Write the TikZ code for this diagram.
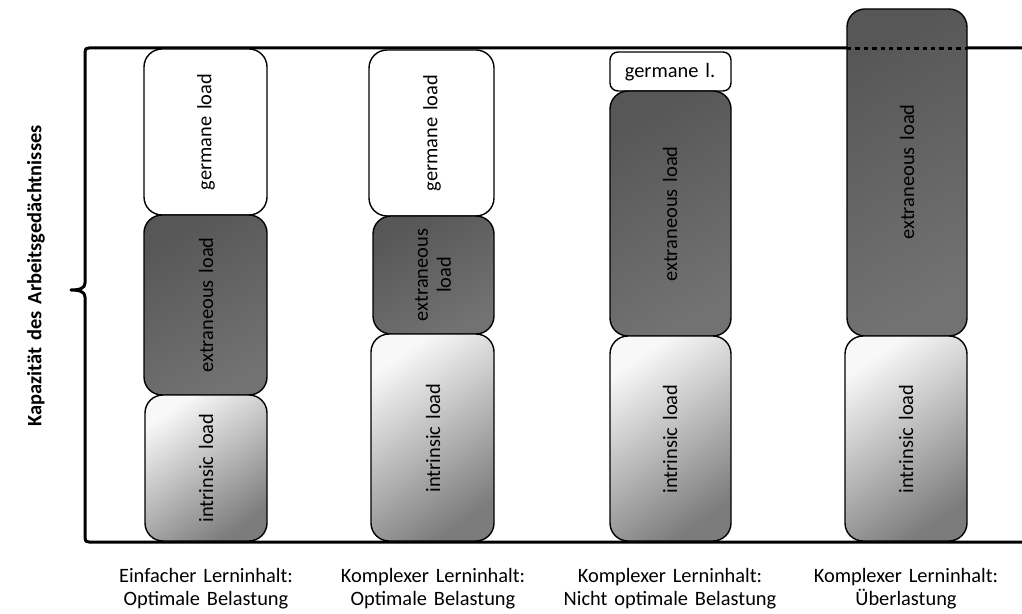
\documentclass[tikz,border=0pt]{standalone}
\usepackage{fontspec}
\setmainfont{Carlito}[WordSpace=1.5]

\definecolor{extratop}{HTML}{575757}
\definecolor{extrabot}{HTML}{727272}
\definecolor{intrtop}{HTML}{F8F8F8}
\definecolor{intrmid}{HTML}{D6D6D6}
\definecolor{intrbot}{HTML}{7C7C7C}

\tikzset{
  loadbox/.style={draw=black, line width=0.7pt, rounded corners=9pt},
  germane/.style={loadbox, fill=white},
  extraneous/.style={loadbox, top color=extratop, bottom color=extrabot, shading angle=30},
  intrinsic/.style={loadbox, top color=intrtop, middle color=intrmid, bottom color=intrbot, shading angle=35},
  loadlabel/.style={rotate=90, align=center, text=black, font=\fontsize{10.2}{11.5}\selectfont},
  caption/.style={align=center, font=\fontsize{10.2}{11.5}\selectfont},
  brace/.style={line width=1.5pt, line join=round}
}

\begin{document}
\begin{tikzpicture}[x=0.5pt, y=-0.5pt]
  \useasboundingbox (0,0) rectangle (1022,614);

  % Kapazitaet: Klammer mit oberer und unterer Grenze
  \draw[brace] (1022,48) -- (89,48) .. controls (86,48) and (85,49) .. (85,52) -- (85,283)
    .. controls (85,288) and (80,290) .. (71,290)
    .. controls (80,290) and (85,292) .. (85,297) -- (85,538)
    .. controls (85,541) and (86,542) .. (89,542) -- (1022,542);
  \node[rotate=90, font=\fontsize{10.2}{12}\selectfont\bfseries] (kap) at (36,276) {Kapazität des Arbeitsgedächtnisses};

  % Spalte 1
  \draw[germane] (144,49) rectangle (267,215);
  \node[loadlabel] (g1) at (206,132) {germane load};
  \draw[extraneous] (144,215) rectangle (267,395);
  \node[loadlabel] (e1) at (206,305) {extraneous load};
  \draw[intrinsic] (145,395) rectangle (267,541);
  \node[loadlabel] (i1) at (206,468) {intrinsic load};

  % Spalte 2
  \draw[germane] (369,50) rectangle (494,216);
  \node[loadlabel] (g2) at (432,133) {germane load};
  \draw[extraneous] (373,216) rectangle (494,334);
  \node[loadlabel] (e2) at (433,275) {extraneous\\load};
  \draw[intrinsic] (371,334) rectangle (494,541);
  \node[loadlabel] (i2) at (433,438) {intrinsic load};

  % Spalte 3
  \draw[germane, rounded corners=4pt] (610,52) rectangle (731,91);
  \node[caption] (g3) at (670,72) {germane l.};
  \draw[extraneous] (610,91) rectangle (731,336);
  \node[loadlabel] (e3) at (670,214) {extraneous load};
  \draw[intrinsic] (610,336) rectangle (731,541);
  \node[loadlabel] (i3) at (670,439) {intrinsic load};

  % Spalte 4 (Ueberlastung)
  \draw[extraneous] (847,9) rectangle (967,336);
  \draw[line width=1.5pt, dash pattern=on 2.2pt off 2pt] (847,49) -- (967,49);
  \node[loadlabel] (e4) at (907,172) {extraneous load};
  \draw[intrinsic] (845,336) rectangle (967,541);
  \node[loadlabel] (i4) at (906,439) {intrinsic load};

  % Beschriftung
  \node[caption] (c1) at (206,589) {Einfacher Lerninhalt:\\Optimale Belastung};
  \node[caption] (c2) at (433,589) {Komplexer Lerninhalt:\\Optimale Belastung};
  \node[caption] (c3) at (670,589) {Komplexer Lerninhalt:\\Nicht optimale Belastung};
  \node[caption] (c4) at (906,589) {Komplexer Lerninhalt:\\Überlastung};
\end{tikzpicture}
\end{document}
